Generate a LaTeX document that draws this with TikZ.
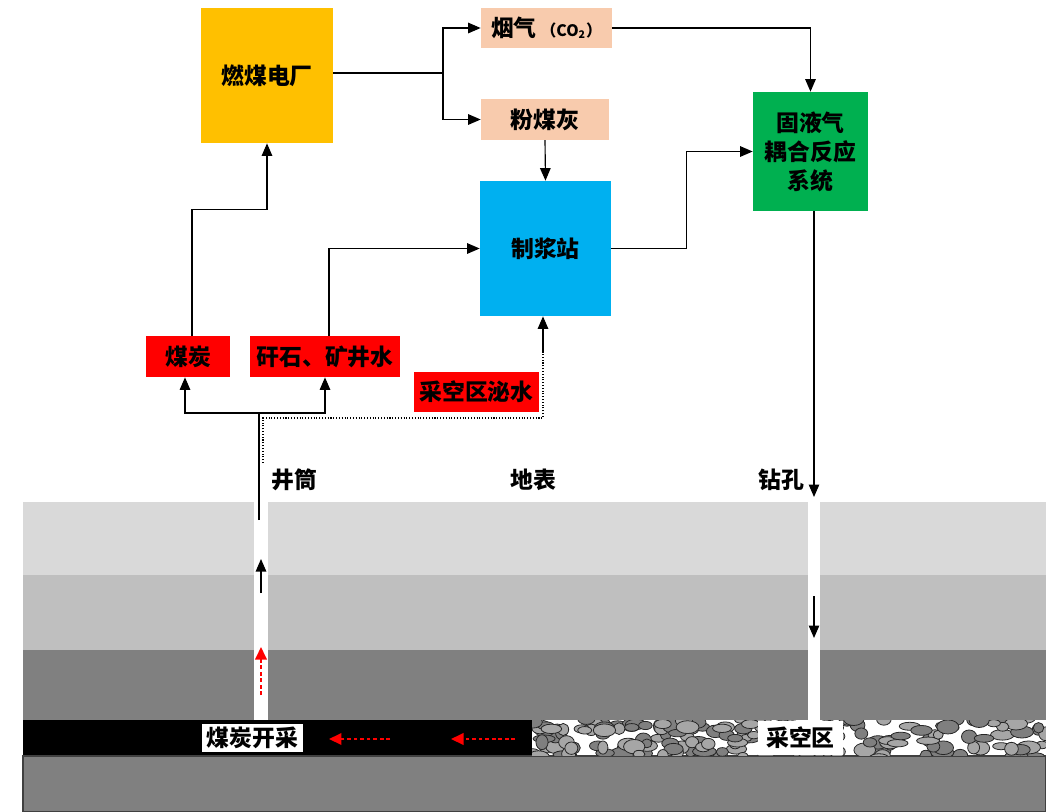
\documentclass[tikz,border=0pt]{standalone}
\usepackage{fontspec}
\setmainfont{Noto Sans CJK SC}
\usetikzlibrary{arrows.meta}

\definecolor{plantyellow}{HTML}{FFC000}
\definecolor{gaspeach}{HTML}{F8CBAD}
\definecolor{reactgreen}{HTML}{00B050}
\definecolor{slurryblue}{HTML}{00B0F0}
\definecolor{rockA}{HTML}{D9D9D9}
\definecolor{rockB}{HTML}{BFBFBF}
\definecolor{rockC}{HTML}{808080}
\definecolor{stoneA}{HTML}{7F7F7F}
\definecolor{stoneB}{HTML}{A6A6A6}

\tikzset{
  every node/.style={font=\fontsize{13}{16.5}\selectfont\bfseries, inner sep=0pt},
  block/.style={align=center},
  redbox/.style={fill=red, minimum height=0.82cm},
  peachbox/.style={fill=gaspeach, minimum height=0.81cm},
  arr/.style={-{Triangle[length=2.5mm,width=2.1mm]}, line width=0.65pt},
  redarr/.style={-{Triangle[length=2.5mm,width=2.3mm]}, red, line width=1.1pt, dash pattern=on 2.2pt off 1.5pt},
}

\begin{document}
\begin{tikzpicture}[x=0.02cm, y=-0.02cm]
\useasboundingbox (0,0) rectangle (1046,812);

% rock strata
\fill [rockA] (23,502) rectangle (1046,575);
\fill [rockB] (23,575) rectangle (1046,650);
\fill [rockC] (23,650) rectangle (1046,720);
\fill [black] (23,720) rectangle (532,756);
\fill [white] (532,720) rectangle (1046,756);
\filldraw [fill=rockC, draw=black!75, line width=0.6pt] (23,756) rectangle (1046,812);

% goaf rubble
\begin{scope}
\clip (532,720) rectangle (1046,755);
\pgfmathsetseed{11}
\foreach \i in {1,...,190} {
  \pgfmathsetmacro\sx{532+514*rnd}
  \pgfmathsetmacro\sy{718+40*rnd}
  \pgfmathsetmacro\rx{5+7*rnd}
  \pgfmathsetmacro\ry{3.5+4*rnd}
  \pgfmathsetmacro\tone{rnd<0.5 ? 1 : 0}
  \ifdim\tone pt>0.5pt
    \filldraw [fill=stoneA, draw=black!85, line width=0.45pt] (\sx,\sy) ellipse [x radius=\rx, y radius=\ry];
  \else
    \filldraw [fill=stoneB, draw=black!85, line width=0.45pt] (\sx,\sy) ellipse [x radius=\rx, y radius=\ry];
  \fi
}
\end{scope}

% shaft and borehole
\fill [white] (254,502) rectangle (268,720);
\fill [white] (808,502) rectangle (820,720);

% process blocks
\node [block, fill=plantyellow, minimum width=2.64cm, minimum height=2.7cm] (plant) at (267,75.5) {燃煤电厂};
\node [peachbox, minimum width=2.62cm] (flue) at (546.5,28) {烟气\,{\fontsize{9}{10}\selectfont（CO\textsubscript{2}）}};
\node [peachbox, minimum width=2.56cm] (ash) at (545,119.5) {粉煤灰};
\node [block, fill=reactgreen, minimum width=2.3cm, minimum height=2.38cm] (reactor) at (810.5,151.5) {固液气\\耦合反应\\系统};
\node [block, fill=slurryblue, minimum width=2.62cm, minimum height=2.7cm] (slurry) at (545.5,248.5) {制浆站};
\node [redbox, minimum width=1.68cm] (coal) at (188,356.5) {煤炭};
\node [redbox, minimum width=3cm] (gangue) at (325,356.5) {矸石、矿井水};
\node [redbox, minimum width=2.5cm, minimum height=0.8cm] (bleed) at (476.5,392) {采空区泌水};

% ground labels
\node (shaftlbl) at (294,480) {井筒};
\node (surface) at (533,480) {地表};
\node (borelbl) at (781,480) {钻孔};
\node [fill=white, minimum width=2.02cm, minimum height=0.56cm] (mining) at (252.5,738) {煤炭开采};
\node [fill=white, minimum width=1.7cm, minimum height=0.68cm] (goaf) at (800.5,738) {采空区};

% connectors
\coordinate (split) at (443,73);
\draw [line width=0.65pt] (plant.east |- split) -- (split);
\draw [arr] (split) |- (flue.west);
\draw [arr] (split) |- (ash.west);
\draw [arr] (flue.east) -| (reactor.north);
\draw [arr] (ash.south) -- (slurry.north);
\draw [arr] (slurry.east) -- ++(75,0) |- (reactor.west);

\coordinate (bore) at (814,497);
\draw [arr] (reactor.south -| bore) -- (bore);
\coordinate (boretop) at (814,596);
\coordinate (borebot) at (814,638);
\draw [arr] (boretop) -- (borebot);

\coordinate (hub) at (259,413);
\coordinate (shafttop) at (259,520);
\draw [line width=0.65pt] (shafttop) -- (hub);
\draw [arr] (hub) -| ([xshift=-0.06cm]coal.south);
\draw [arr] (hub) -| (gangue.south);
\draw [arr] ([xshift=0.08cm]coal.north) -- ++(0,-126) -| (plant.south);
\draw [arr] ([xshift=0.08cm]gangue.north) |- (slurry.west);

\coordinate (seep) at (263,463);
\coordinate (seepup) at (543,352);
\draw [line width=0.6pt, densely dotted] (seep) |- (543,418) -- (seepup);
\draw [arr] (seepup) -- (seepup |- slurry.south);

% flow inside shaft and seam
\coordinate (liftlo) at (261,593);
\coordinate (lifthi) at (261,559);
\draw [arr] (liftlo) -- (lifthi);
\coordinate (risela) at (261,695);
\coordinate (riselb) at (261,647);
\draw [redarr] (risela) -- (riselb);
\coordinate (seamA) at (390,739);
\coordinate (seamB) at (329,739);
\coordinate (seamC) at (515,739);
\coordinate (seamD) at (451,739);
\draw [redarr] (seamA) -- (seamB);
\draw [redarr] (seamC) -- (seamD);
\end{tikzpicture}
\end{document}
